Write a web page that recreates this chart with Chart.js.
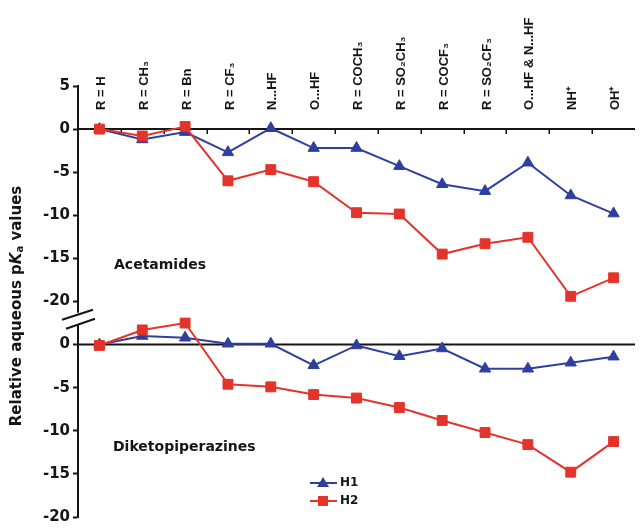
<!DOCTYPE html>
<html><head><meta charset="utf-8">
<script src="https://cdn.jsdelivr.net/npm/chart.js@4.4.0/dist/chart.umd.min.js"></script>
<style>html,body{margin:0;padding:0;background:#fff}</style>
</head><body>
<canvas id="c" width="643" height="529"></canvas>
<script>
const categories = ['R = H','R = CH₃','R = Bn','R = CF₃','N...HF','O...HF','R = COCH₃','R = SO₂CH₃','R = COCF₃','R = SO₂CF₃','O...HF & N...HF','NH⁺','OH⁺'];
const acetamidesH1 = [0,-1.2,-0.35,-2.7,0.1,-2.2,-2.2,-4.3,-6.4,-7.2,-3.9,-7.7,-9.8];
const acetamidesH2 = [0,-0.8,0.3,-6.0,-4.7,-6.1,-9.7,-9.85,-14.5,-13.3,-12.55,-19.4,-17.25];
const diketoH1 = [0,1.0,0.8,0.1,0.1,-2.4,-0.1,-1.35,-0.45,-2.8,-2.8,-2.1,-1.4];
const diketoH2 = [-0.1,1.7,2.5,-4.6,-4.9,-5.8,-6.2,-7.3,-8.8,-10.2,-11.6,-14.8,-11.25];
const topTicks = [5,0,-5,-10,-15,-20];
const bottomTicks = [0,-5,-10,-15,-20];
const seriesNames = ['H1','H2'];

const BLUE = '#2f3f9f', RED = '#e3342b', INK = '#151515';
const tickFont = {family:'DejaVu Sans', weight:'bold', size:15};

function ds(label, data, axis, color, style, radius, order){
  return {label, data, yAxisID: axis, borderColor: color, backgroundColor: color,
    borderWidth: 2, pointStyle: style, pointRadius: radius, pointHoverRadius: radius,
    pointBorderWidth: 1, pointBorderColor: color, pointBackgroundColor: color,
    tension: 0, clip: false, order};
}

const decor = {
  id: 'decor',
  beforeDatasetsDraw(chart){
    const {ctx, chartArea:a, scales:{x, yTop, yBot}} = chart;
    ctx.save();
    ctx.strokeStyle = INK; ctx.lineWidth = 2;
    const y0 = yTop.getPixelForValue(0), y1 = yBot.getPixelForValue(0);
    ctx.beginPath();
    ctx.moveTo(a.left, y0); ctx.lineTo(a.right, y0);
    ctx.moveTo(a.left, y1); ctx.lineTo(a.right, y1);
    ctx.stroke();
    const half = (x.getPixelForValue(1) - x.getPixelForValue(0)) / 2;
    ctx.lineWidth = 1.5; ctx.beginPath();
    for (let i = 0; i < categories.length - 1; i++){
      const xb = Math.round(x.getPixelForValue(i) + half) + 0.25;
      ctx.moveTo(xb, y0 - 1); ctx.lineTo(xb, y0 + 5);
    }
    ctx.stroke();
    ctx.restore();
  },
  afterDraw(chart){
    const {ctx, chartArea:a, scales:{x, yTop, yBot}} = chart;
    ctx.save();
    ctx.fillStyle = INK;
    // category labels
    ctx.font = 'bold 13px "Liberation Sans"';
    ctx.textAlign = 'left'; ctx.textBaseline = 'middle';
    categories.forEach((c, i) => {
      const px = x.getPixelForValue(i);
      ctx.save(); ctx.translate(px + 2, 110); ctx.rotate(-Math.PI/2);
      ctx.fillText(c, 0, 0); ctx.restore();
    });
    // panel labels
    ctx.font = 'bold 14px "DejaVu Sans"';
    ctx.textBaseline = 'middle';
    ctx.fillText('Acetamides', 114, 265);
    ctx.fillText('Diketopiperazines', 113, 447);
    // y title
    const parts = [
      ['Relative aqueous p', 'bold 15px "DejaVu Sans"', 0],
      ['K', 'italic bold 15px "DejaVu Sans"', 0],
      ['a', 'bold 10px "DejaVu Sans"', 3],
      [' values', 'bold 15px "DejaVu Sans"', 0]
    ];
    let total = 0;
    parts.forEach(p => { ctx.font = p[1]; p.w = ctx.measureText(p[0]).width; total += p.w; });
    ctx.save(); ctx.translate(17, 306); ctx.rotate(-Math.PI/2);
    ctx.textAlign = 'left'; ctx.textBaseline = 'middle';
    let cx = -total/2;
    parts.forEach(p => { ctx.font = p[1]; ctx.fillText(p[0], cx, p[2]); cx += p.w; });
    ctx.restore();
    // axis break
    const yb = yTop.bottom;
    const ax = a.left;
    ctx.fillStyle = '#fff';
    ctx.fillRect(ax - 3, yb - 6, 6, 12);
    ctx.strokeStyle = INK; ctx.lineWidth = 2;
    ctx.beginPath();
    ctx.moveTo(ax - 16, yb + 1); ctx.lineTo(ax + 15, yb - 9);
    ctx.moveTo(ax - 12, yb + 10); ctx.lineTo(ax + 17, yb + 0);
    ctx.stroke();
    // legend
    const items = [[seriesNames[0], BLUE, 'tri', 483], [seriesNames[1], RED, 'sq', 501]];
    items.forEach(([name, col, shape, ly]) => {
      ctx.strokeStyle = col; ctx.fillStyle = col; ctx.lineWidth = 2;
      ctx.beginPath(); ctx.moveTo(310, ly); ctx.lineTo(337, ly); ctx.stroke();
      ctx.beginPath();
      if (shape === 'tri'){ ctx.moveTo(323, ly - 6); ctx.lineTo(329, ly + 4); ctx.lineTo(317, ly + 4); ctx.closePath(); }
      else { ctx.rect(318, ly - 5, 10, 10); }
      ctx.fill();
      ctx.fillStyle = INK; ctx.font = 'bold 12px "DejaVu Sans"';
      ctx.textAlign = 'left'; ctx.textBaseline = 'middle';
      ctx.fillText(name, 340, ly);
    });
    ctx.restore();
  }
};

const yCommon = (weight, min, max, ticksArr) => ({
  type: 'linear', position: 'left', stack: 'y', stackWeight: weight, min, max,
  afterBuildTicks: s => { s.ticks = ticksArr.map(v => ({value: v})); },
  afterFit: s => { s.width = 78; },
  grid: {drawOnChartArea: false, color: INK, tickLength: 5, tickWidth: 2},
  border: {color: INK, width: 2},
  ticks: {font: tickFont, color: INK, padding: 3}
});

new Chart(document.getElementById('c'), {
  type: 'line',
  data: {
    labels: categories,
    datasets: [
      ds(seriesNames[1], acetamidesH2, 'yTop', RED, 'rect', 7, 0),
      ds(seriesNames[0], acetamidesH1, 'yTop', BLUE, 'triangle', 6.5, 1),
      ds(seriesNames[1], diketoH2, 'yBot', RED, 'rect', 7, 0),
      ds(seriesNames[0], diketoH1, 'yBot', BLUE, 'triangle', 6.5, 1)
    ]
  },
  options: {
    responsive: false, animation: false,
    layout: {padding: {top: 86, right: 2, bottom: 10, left: 0}},
    plugins: {legend: {display: false}, tooltip: {enabled: false}},
    scales: {
      x: {type: 'category', offset: true, display: false},
      yBot: yCommon(23, -20, 3, bottomTicks),
      yTop: yCommon(27, -22, 5, topTicks)
    }
  },
  plugins: [decor]
});
</script>
</body></html>
